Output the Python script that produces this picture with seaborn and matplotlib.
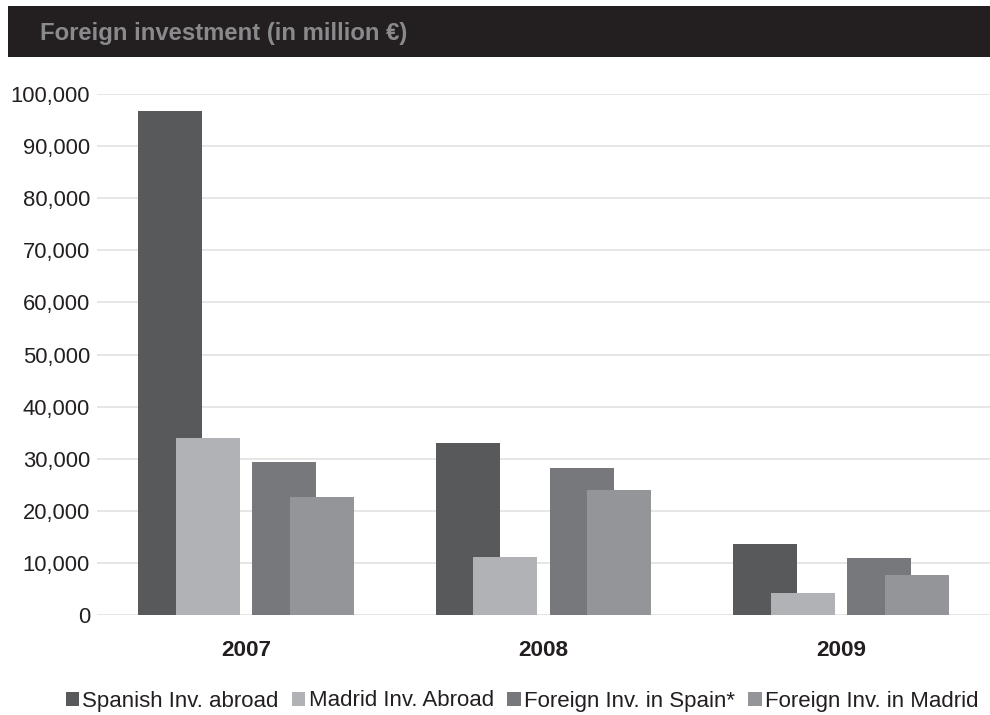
import numpy as np
import pandas as pd
import seaborn as sns
import matplotlib.pyplot as plt
from matplotlib.patches import Patch, Rectangle

# values (million EUR)
years = ['2007', '2008', '2009']
series_names = ['Spanish Inv. abroad', 'Madrid Inv. Abroad',
                'Foreign Inv. in Spain*', 'Foreign Inv. in Madrid']
spanish_abroad = [96700, 33100, 13700]
madrid_abroad = [33900, 11200, 4300]
foreign_in_spain = [29300, 28300, 11000]
foreign_in_madrid = [22700, 23900, 7600]
ytick_values = [0, 10000, 20000, 30000, 40000, 50000,
                60000, 70000, 80000, 90000, 100000]

colors = ['#58595b', '#b1b2b5', '#77787b', '#939598']
# bars of a pair overlap, as in the original
offsets = [-0.255, -0.128, 0.128, 0.255]
bar_width = 0.215

sns.set_style('white')
plt.rcParams['font.family'] = ['Liberation Sans', 'DejaVu Sans']

fig = plt.figure(figsize=(9.9, 7.15), dpi=100)
ax = fig.add_axes([97 / 990, 1 - 615 / 715, 1 - 97 / 990, (615 - 94) / 715])

all_series = [spanish_abroad, madrid_abroad, foreign_in_spain, foreign_in_madrid]
for vals, color, off in zip(all_series, colors, offsets):
    df = pd.DataFrame({'pos': np.arange(len(years)) + off, 'value': vals})
    sns.barplot(data=df, x='pos', y='value', native_scale=True,
                width=bar_width, color=color, saturation=1,
                errorbar=None, linewidth=0, edgecolor='none',
                ax=ax, zorder=3)

ax.set_xlim(-0.5, 2.5)
ax.set_ylim(0, 100000)
ax.set_xticks(np.arange(len(years)))
ax.set_xticklabels(years, fontsize=16.2, fontweight='bold', color='#231f20')
ax.set_yticks(ytick_values)
ax.set_yticklabels([f'{v:,}' for v in ytick_values], fontsize=15.8, color='#231f20')
ax.tick_params(axis='x', length=0, pad=18)
ax.tick_params(axis='y', length=0, pad=5)
ax.set_xlabel(None)
ax.set_ylabel(None)
ax.grid(axis='y', color='#e6e6e6', linewidth=1.4, zorder=0)
ax.set_axisbelow(True)
for s in ax.spines.values():
    s.set_visible(False)

# dark title banner
fig.patches.append(Rectangle((8 / 990, 1 - 57 / 715), 1 - 8 / 990, 51 / 715,
                             transform=fig.transFigure, facecolor='#231f20',
                             edgecolor='none', zorder=0))
fig.text(40 / 990, 1 - 40 / 715, 'Foreign investment (in million €)',
         fontsize=17.2, fontweight='bold', color='#8a8a8d', va='baseline')

handles = [Patch(facecolor=c, edgecolor='none') for c in colors]
fig.legend(handles, series_names, loc='center', ncol=4,
           bbox_to_anchor=(522 / 990, 1 - 701 / 715), frameon=False,
           fontsize=16, handlelength=0.6, handleheight=0.6,
           handletextpad=0.15, columnspacing=0.6, borderpad=0,
           labelcolor='#231f20')

fig.savefig('out.png', dpi=100)
